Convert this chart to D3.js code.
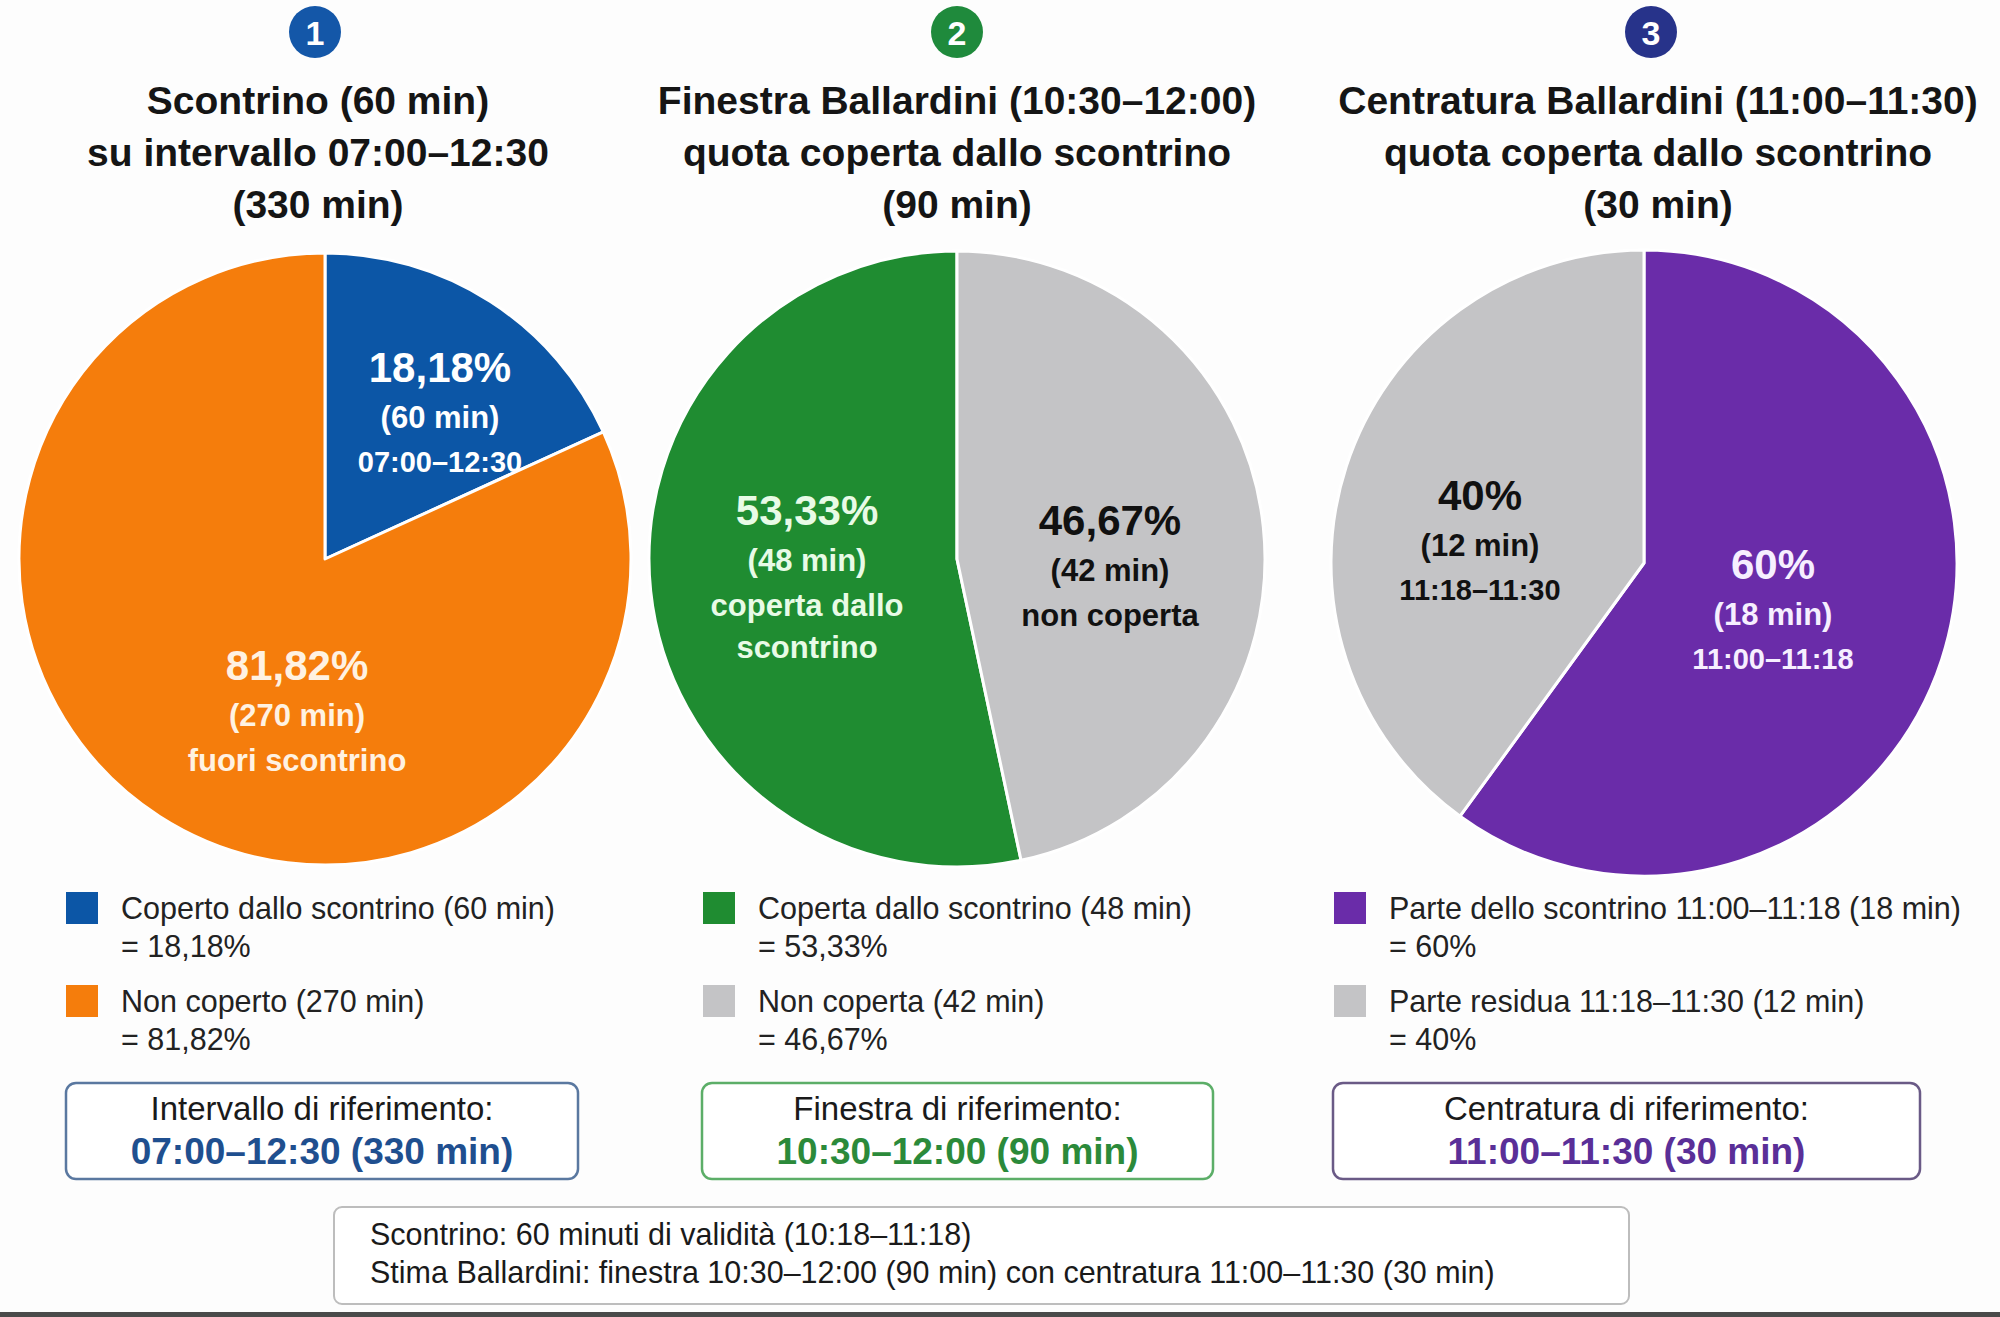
<!DOCTYPE html>
<html><head><meta charset="utf-8">
<script src="https://cdn.jsdelivr.net/npm/d3@7"></script>
<style>
html,body{margin:0;padding:0;background:#fdfdfd;}
svg{display:block;font-family:"Liberation Sans",Arial,Helvetica,sans-serif;}
</style></head>
<body>
<svg id="chart" width="2000" height="1317"></svg>
<script>
// ---------- DATA ----------
const badgeNumbers = ["1", "2", "3"];
const titles1 = ["Scontrino (60 min)", "su intervallo 07:00–12:30", "(330 min)"];
const titles2 = ["Finestra Ballardini (10:30–12:00)", "quota coperta dallo scontrino", "(90 min)"];
const titles3 = ["Centratura Ballardini (11:00–11:30)", "quota coperta dallo scontrino", "(30 min)"];

const pie1Categories = ["Coperto dallo scontrino", "Non coperto"];
const pie1Values = [60, 270];
const pie1Percent = ["18,18%", "81,82%"];
const pie1SliceText = [["(60 min)", "07:00–12:30"], ["(270 min)", "fuori scontrino"]];
const pie1Legend = [["Coperto dallo scontrino (60 min)", "= 18,18%"], ["Non coperto (270 min)", "= 81,82%"]];

const pie2Categories = ["Coperta dallo scontrino", "Non coperta"];
const pie2Values = [48, 42];
const pie2Percent = ["53,33%", "46,67%"];
const pie2SliceText = [["(48 min)", "coperta dallo", "scontrino"], ["(42 min)", "non coperta"]];
const pie2Legend = [["Coperta dallo scontrino (48 min)", "= 53,33%"], ["Non coperta (42 min)", "= 46,67%"]];

const pie3Categories = ["Parte dello scontrino", "Parte residua"];
const pie3Values = [18, 12];
const pie3Percent = ["60%", "40%"];
const pie3SliceText = [["(18 min)", "11:00–11:18"], ["(12 min)", "11:18–11:30"]];
const pie3Legend = [["Parte dello scontrino 11:00–11:18 (18 min)", "= 60%"], ["Parte residua 11:18–11:30 (12 min)", "= 40%"]];

const refBoxTitles = ["Intervallo di riferimento:", "Finestra di riferimento:", "Centratura di riferimento:"];
const refBoxValues = ["07:00–12:30 (330 min)", "10:30–12:00 (90 min)", "11:00–11:30 (30 min)"];
const footnoteLines = ["Scontrino: 60 minuti di validità (10:18–11:18)",
  "Stima Ballardini: finestra 10:30–12:00 (90 min) con centratura 11:00–11:30 (30 min)"];

// ---------- LAYOUT / STYLE ----------
const svg = d3.select("#chart");
const panels = [
  {cx: 325, cy: 559, r: 306, titleX: 318, titles: titles1, badge: "#1457a8", values: pie1Values, pct: pie1Percent, txt: pie1SliceText,
   legend: pie1Legend, colors: ["#0c56a6", "#f57d0c"], textColors: ["#ffffff", "#fff2e2"], startFrac: 0,
   labelPos: [[118 - 3, 367], [-25 - 3, 665]], legX: 66, box: [66, 578], boxStroke: "#5a78a0", boxColor: "#1f4f8f"},
  {cx: 957, cy: 559, r: 308, titleX: 957, titles: titles2, badge: "#1f8a3c", values: pie2Values, pct: pie2Percent, txt: pie2SliceText,
   legend: pie2Legend, colors: ["#1f8c31", "#c4c4c6"], textColors: ["#e8fbe6", "#111111"], startFrac: -1,
   labelPos: [[-150, 510], [153, 520]], legX: 703, box: [702, 1213], boxStroke: "#5cae68", boxColor: "#2b8a3a"},
  {cx: 1644, cy: 563, r: 313, titleX: 1658, titles: titles3, badge: "#27338a", values: pie3Values, pct: pie3Percent, txt: pie3SliceText,
   legend: pie3Legend, colors: ["#6a2ca9", "#c4c4c6"], textColors: ["#f6efff", "#111111"], startFrac: 0,
   labelPos: [[129, 564], [-164, 495]], legX: 1334, box: [1333, 1920], boxStroke: "#6a5a86", boxColor: "#5a2f98"}
];
const badgeXs = [315, 957, 1651];

panels.forEach((p, i) => {
  const g = svg.append("g");
  // badge
  g.append("circle").attr("cx", badgeXs[i]).attr("cy", 32).attr("r", 26).attr("fill", p.badge);
  g.append("text").attr("x", badgeXs[i]).attr("y", 33).attr("text-anchor", "middle").attr("dominant-baseline", "central")
    .attr("fill", "#fff").attr("font-weight", "bold").attr("font-size", 34).text(badgeNumbers[i]);
  // titles
  p.titles.forEach((t, k) => {
    g.append("text").attr("x", p.titleX).attr("y", 100 + k * 52).attr("text-anchor", "middle")
      .attr("dominant-baseline", "central").attr("font-weight", "bold").attr("font-size", 39).attr("fill", "#151515").text(t);
  });
  // pie
  const arc = d3.arc().innerRadius(0).outerRadius(p.r);
  const total = d3.sum(p.values);
  const start = p.startFrac === -1 ? -2 * Math.PI * p.values[0] / total : 0;
  const pie = d3.pie().sort(null).startAngle(start).endAngle(start + 2 * Math.PI);
  const arcs = pie(p.values);
  const pg = g.append("g").attr("transform", `translate(${p.cx},${p.cy})`);
  pg.selectAll("path").data(arcs).join("path").attr("d", arc)
    .attr("fill", (d, j) => p.colors[j]).attr("stroke", "#fff").attr("stroke-width", 3).attr("stroke-linejoin", "round");
  // slice labels
  arcs.forEach((d, j) => {
    const [lx, ly] = p.labelPos[j];
    const lines = [p.pct[j]].concat(p.txt[j]);
    const gaps = [0, 50, 45, 42];
    let y = ly - p.cy;
    lines.forEach((ln, k) => {
      y += gaps[k];
      const size = k === 0 ? 42 : (k === 1 ? 31 : (/\d/.test(ln) ? 29 : 31));
      pg.append("text").attr("x", lx).attr("y", y).attr("text-anchor", "middle").attr("dominant-baseline", "central")
        .attr("font-weight", "bold").attr("font-size", size).attr("fill", p.textColors[j]).text(ln);
    });
  });
  // legend
  p.legend.forEach((lg, j) => {
    const y0 = 908 + j * 93;
    g.append("rect").attr("x", p.legX).attr("y", y0 - 16).attr("width", 32).attr("height", 32).attr("fill", p.colors[j]);
    g.append("text").attr("x", p.legX + 55).attr("y", y0).attr("dominant-baseline", "central")
      .attr("font-size", 30.5).attr("fill", "#222").text(lg[0]);
    g.append("text").attr("x", p.legX + 55).attr("y", y0 + 38).attr("dominant-baseline", "central")
      .attr("font-size", 30.5).attr("fill", "#222").text(lg[1]);
  });
  // reference box
  const [bx0, bx1] = p.box;
  g.append("rect").attr("x", bx0).attr("y", 1083).attr("width", bx1 - bx0).attr("height", 96).attr("rx", 10)
    .attr("fill", "#fff").attr("stroke", p.boxStroke).attr("stroke-width", 2.5);
  g.append("text").attr("x", (bx0 + bx1) / 2).attr("y", 1108).attr("text-anchor", "middle").attr("dominant-baseline", "central")
    .attr("font-size", 33).attr("fill", "#1a1a1a").text(refBoxTitles[i]);
  g.append("text").attr("x", (bx0 + bx1) / 2).attr("y", 1151).attr("text-anchor", "middle").attr("dominant-baseline", "central")
    .attr("font-size", 37).attr("font-weight", "bold").attr("fill", p.boxColor).text(refBoxValues[i]);
});

// footnote box
svg.append("rect").attr("x", 334).attr("y", 1207).attr("width", 1295).attr("height", 97).attr("rx", 8)
  .attr("fill", "#fff").attr("stroke", "#bdbdbd").attr("stroke-width", 2);
footnoteLines.forEach((t, k) => {
  svg.append("text").attr("x", 370).attr("y", 1234 + k * 38).attr("dominant-baseline", "central")
    .attr("font-size", 30.5).attr("fill", "#1a1a1a").text(t);
});
svg.append("rect").attr("x", 0).attr("y", 1312).attr("width", 2000).attr("height", 5).attr("fill", "#4a4a4a");
</script>
</body></html>
